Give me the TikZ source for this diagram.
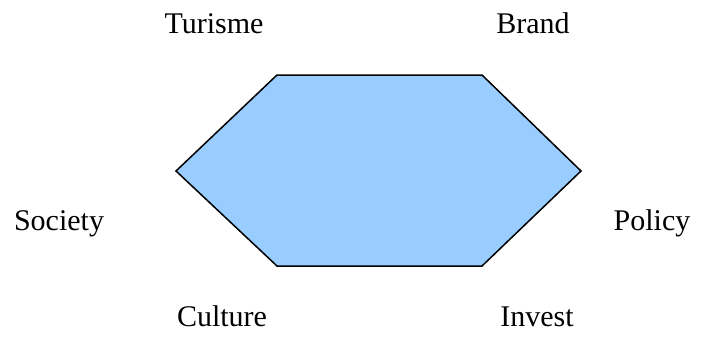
\documentclass[tikz,border=0pt]{standalone}
\usepackage{fontspec}
\setmainfont{Liberation Serif}
\begin{document}
\begin{tikzpicture}[x=1pt,y=-1pt,
  lbl/.style={anchor=base,inner sep=0pt,font=\fontsize{30}{36}\selectfont},
  hexa/.style={fill={rgb,255:red,153;green,204;blue,255},draw=black,line width=1.5pt,line join=miter}]
\useasboundingbox (0,0) rectangle (710,356);
\coordinate (v1) at (277,75);
\coordinate (v2) at (482,75);
\coordinate (v3) at (581,171);
\coordinate (v4) at (482,266);
\coordinate (v5) at (277,266);
\coordinate (v6) at (176,171);
\draw[hexa] (v1) -- (v2) -- (v3) -- (v4) -- (v5) -- (v6) -- cycle;
\node[lbl] (turisme) at (214,33) {Turisme};
\node[lbl] (brand) at (533,33) {Brand};
\node[lbl] (society) at (59,230) {Society};
\node[lbl] (policy) at (652,230) {Policy};
\node[lbl] (culture) at (222,326) {Culture};
\node[lbl] (invest) at (537,326) {Invest};
\end{tikzpicture}
\end{document}
